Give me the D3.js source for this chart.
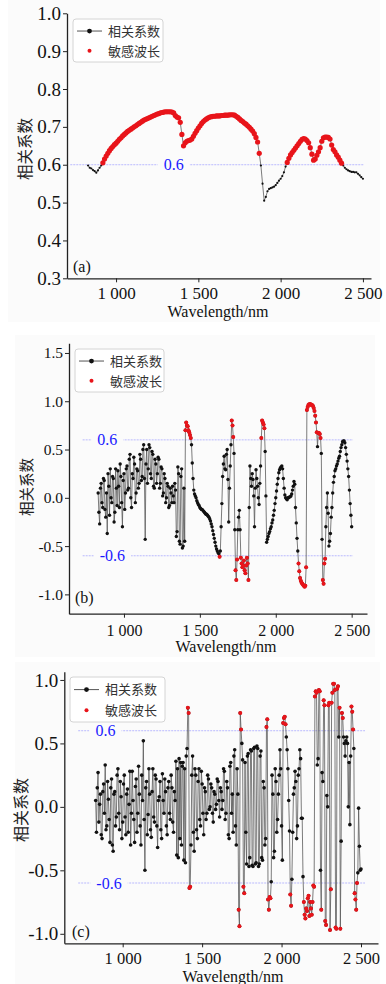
<!DOCTYPE html>
<html>
<head>
<meta charset="utf-8">
<script src="https://cdn.jsdelivr.net/npm/d3@7"></script>
<style>
  body { margin: 0; background: #fff; }
  svg { display: block; }
</style>
</head>
<body>
<svg id="chart" width="386" height="984"></svg>
<script>
// sampling grid (nm): (a) every 10 nm, (b)/(c) every 5 nm, all from 830 nm
const wlStart = 830;
const stepA = 10, stepBC = 5;

const xTickValues = [1000, 1500, 2000, 2500];
const xTickLabels = ["1 000", "1 500", "2 000", "2 500"];
const legendLabels = ["相关系数", "敏感波长"];
const panelLetters = ["(a)", "(b)", "(c)"];
const sensThreshold = 0.6;

// (a) correlation coefficient, 830-2500 nm every 10 nm
const corrA = [
  0.598, 0.592, 0.590, 0.586, 0.583, 0.579, 0.585, 0.592, 0.598, 0.605,
  0.615, 0.623, 0.630, 0.637, 0.643, 0.648, 0.653, 0.657, 0.662, 0.667,
  0.671, 0.676, 0.680, 0.684, 0.688, 0.691, 0.694, 0.697, 0.700, 0.703,
  0.706, 0.709, 0.712, 0.715, 0.718, 0.720, 0.722, 0.724, 0.726, 0.728,
  0.730, 0.732, 0.734, 0.735, 0.737, 0.738, 0.739, 0.740, 0.740, 0.740,
  0.740, 0.739, 0.737, 0.730, 0.726, 0.724, 0.712, 0.680, 0.650, 0.658,
  0.662, 0.664, 0.665, 0.668, 0.675, 0.683, 0.690, 0.697, 0.703, 0.709,
  0.714, 0.718, 0.721, 0.724, 0.726, 0.727, 0.728, 0.728, 0.729, 0.729,
  0.729, 0.730, 0.730, 0.731, 0.731, 0.731, 0.732, 0.732, 0.732, 0.731,
  0.728, 0.725, 0.721, 0.717, 0.714, 0.710, 0.707, 0.703, 0.699, 0.694,
  0.689, 0.682, 0.672, 0.660, 0.630, 0.598, 0.550, 0.505, 0.515, 0.530,
  0.536, 0.538, 0.540, 0.542, 0.546, 0.552, 0.558, 0.563, 0.570, 0.580,
  0.595, 0.606, 0.617, 0.626, 0.632, 0.638, 0.644, 0.650, 0.656, 0.662,
  0.667, 0.669, 0.668, 0.664, 0.658, 0.645, 0.628, 0.612, 0.615, 0.625,
  0.634, 0.645, 0.662, 0.671, 0.673, 0.673, 0.672, 0.668, 0.652, 0.640,
  0.634, 0.626, 0.620, 0.612, 0.604, 0.598, 0.592, 0.588, 0.585, 0.583,
  0.581, 0.581, 0.580, 0.580, 0.576, 0.572, 0.567, 0.563
];

// (b) every 5 nm, one row = 50 nm
const corrB = [
  0.05, -0.15, -0.27, 0.10, 0.15, -0.05, -0.10, 0.20, 0.18, -0.12,
  -0.20, 0.05, -0.37, 0.25, 0.12, -0.18, 0.30, 0.00, -0.05, 0.22,
  0.20, -0.25, -0.15, 0.30, 0.10, -0.08, 0.28, 0.12, -0.10, 0.35,
  0.22, -0.05, -0.30, 0.18, 0.25, -0.12, 0.05, 0.30, 0.33, 0.08,
  0.10, 0.40, 0.45, 0.00, -0.10, 0.25, 0.20, 0.42, 0.35, -0.05,
  0.05, 0.30, 0.28, 0.10, 0.15, 0.45, 0.40, 0.18, 0.22, 0.50,
  0.55, 0.20, -0.43, 0.35, 0.50, 0.15, 0.30, 0.55, 0.52, 0.25,
  0.20, 0.48, 0.45, 0.12, 0.10, 0.40, 0.35, 0.15, 0.25, 0.42,
  0.40, 0.10, 0.15, 0.32, 0.30, 0.02, 0.05, 0.25, 0.20, -0.05,
  0.00, 0.15, 0.12, -0.10, -0.08, 0.10, 0.05, -0.05, 0.12, 0.02,
  -0.05, 0.15, 0.08, -0.40, -0.35, 0.32, 0.25, -0.45, -0.48, 0.22,
  0.30, -0.52, -0.50, 0.10, -0.45, 0.70, 0.78, 0.75, 0.74, 0.70,
  0.68, 0.65, 0.62, 0.55, 0.36, 0.20, 0.08, 0.04, 0.02, 0.00,
  -0.03, -0.05, -0.07, -0.08, -0.10, -0.11, -0.12, -0.12, -0.13, -0.14,
  -0.15, -0.16, -0.17, -0.17, -0.18, -0.19, -0.20, -0.22, -0.24, -0.27,
  -0.30, -0.34, -0.38, -0.42, -0.46, -0.50, -0.53, -0.55, -0.57, -0.58,
  -0.61, -0.55, -0.30, -0.06, 0.22, 0.35, 0.43, 0.30, 0.29, 0.45,
  0.50, 0.19, -0.25, 0.10, 0.33, 0.55, 0.80, 0.75, 0.63, 0.46,
  -0.33, -0.75, -0.85, -0.64, -0.33, -0.20, -0.13, -0.33, -0.62, -0.68,
  -0.72, -0.70, -0.65, -0.75, -0.78, -0.70, -0.62, -0.68, -0.85, -0.10,
  0.33, 0.20, 0.12, 0.25, 0.19, 0.02, -0.30, 0.10, 0.29, 0.20,
  0.12, 0.00, -0.07, 0.15, 0.33, 0.62, 0.80, 0.78, 0.76, 0.72,
  0.48, 0.02, -0.46, -0.43, -0.40, -0.37, -0.35, -0.32, -0.30, -0.26,
  -0.23, -0.18, -0.13, -0.06, 0.00, 0.07, 0.14, 0.20, 0.26, 0.29,
  0.31, 0.32, 0.33, 0.30, 0.20, 0.10, 0.03, 0.00, -0.01, -0.02,
  0.00, 0.00, 0.01, 0.01, 0.02, 0.04, 0.08, 0.12, 0.17, 0.14,
  -0.10, -0.26, -0.42, -0.55, -0.68, -0.76, -0.83, -0.86, -0.88, -0.89,
  -0.90, -0.91, -0.92, -0.91, -0.72, 0.91, 0.94, 0.96, 0.97, 0.97,
  0.97, 0.96, 0.96, 0.95, 0.93, 0.90, 0.85, 0.78, 0.68, 0.53,
  0.67, 0.67, 0.66, 0.62, 0.46, -0.43, -0.85, -0.89, -0.68, -0.63,
  -0.30, -0.10, 0.05, -0.16, -0.50, -0.45, -0.37, -0.20, -0.10, 0.05,
  0.16, 0.22, 0.28, 0.30, 0.33, 0.35, 0.38, 0.41, 0.43, 0.48,
  0.52, 0.55, 0.58, 0.59, 0.59, 0.57, 0.52, 0.45, 0.38, 0.30,
  0.22, 0.08, -0.06, -0.18, -0.30
];

// (c) every 5 nm, one row = 50 nm
const corrC = [
  0.05, -0.20, 0.15, 0.27, -0.12, 0.02, 0.10, -0.22, -0.25, 0.12,
  0.18, -0.05, 0.33, -0.18, -0.15, 0.20, 0.06, -0.10, -0.28, 0.15,
  0.22, -0.30, -0.35, 0.10, 0.12, -0.15, -0.08, 0.25, 0.30, -0.05,
  -0.18, 0.20, 0.08, -0.25, -0.12, 0.18, 0.25, -0.08, -0.22, 0.10,
  0.14, -0.20, 0.02, 0.28, -0.30, -0.05, 0.28, 0.05, -0.10, -0.28,
  0.16, 0.22, -0.20, -0.05, 0.32, 0.10, -0.15, -0.30, 0.25, 0.05,
  0.52, -0.10, -0.50, 0.15, 0.20, -0.22, -0.06, 0.30, 0.10, -0.18,
  -0.24, 0.12, 0.30, -0.08, -0.12, 0.25, 0.22, -0.15, -0.32, 0.05,
  0.08, 0.20, -0.18, -0.25, 0.26, 0.05, -0.05, 0.22, 0.12, -0.15,
  -0.22, 0.15, 0.20, -0.05, -0.10, 0.25, 0.15, -0.12, -0.20, 0.12,
  0.05, 0.36, -0.38, 0.30, -0.40, 0.38, -0.25, 0.35, -0.30, 0.32,
  0.35, -0.42, 0.30, -0.44, 0.40, 0.46, 0.78, 0.74, -0.64, -0.63,
  -0.30, 0.25, 0.40, -0.20, -0.35, 0.30, 0.25, -0.18, -0.25, 0.20,
  0.30, -0.10, -0.15, 0.28, 0.18, -0.05, -0.22, 0.15, 0.12, -0.10,
  -0.05, 0.25, 0.22, -0.02, 0.00, 0.18, 0.15, -0.05, -0.12, 0.12,
  0.10, -0.02, 0.02, 0.22, 0.20, 0.05, -0.08, 0.15, 0.12, -0.02,
  0.05, 0.30, 0.28, -0.10, -0.05, 0.20, 0.15, -0.22, -0.25, 0.32,
  0.35, -0.05, 0.10, -0.20, 0.40, 0.45, -0.15, -0.30, 0.30, 0.10,
  -0.81, -0.94, 0.74, 0.61, 0.50, 0.37, -0.63, -0.68, 0.35, -0.20,
  -0.45, 0.40, 0.42, -0.47, -0.40, 0.45, 0.44, -0.46, -0.47, 0.46,
  0.47, -0.45, -0.44, 0.48, 0.46, -0.47, -0.45, 0.40, 0.44, -0.40,
  -0.42, 0.20, 0.15, -0.30, -0.25, 0.63, 0.69, -0.73, -0.81, -0.71,
  -0.72, -0.59, 0.25, 0.10, -0.40, -0.35, 0.30, 0.20, -0.20, -0.10,
  0.10, 0.25, 0.45, 0.30, -0.15, -0.42, 0.66, 0.70, 0.71, 0.65,
  0.55, 0.45, 0.30, 0.05, -0.19, -0.69, -0.78, -0.57, -0.20, 0.10,
  0.15, 0.28, 0.20, -0.25, -0.15, 0.25, 0.30, 0.45, 0.38, -0.09,
  -0.09, -0.55, -0.75, -0.85, -0.88, -0.80, -0.82, -0.72, -0.70, -0.86,
  -0.75, -0.80, -0.85, -0.75, -0.62, -0.63, 0.87, 0.91, 0.90, 0.33,
  0.38, 0.92, 0.91, -0.50, -0.81, 0.27, 0.20, 0.84, 0.80, -0.90,
  -0.93, 0.09, 0.00, 0.80, 0.82, -0.97, -0.65, 0.82, 0.90, 0.97,
  0.97, 0.92, -0.95, -0.96, 0.93, 0.95, 0.55, 0.78, -0.96, -0.27,
  0.74, 0.70, 0.55, 0.50, 0.40, 0.52, 0.55, 0.50, 0.00, 0.35,
  -0.14, 0.40, 0.79, 0.75, 0.61, 0.46, -0.68, -0.73, -0.81, -0.60,
  -0.52, -0.01, -0.31, -0.50, -0.49
];

const yTicksA = [0.3, 0.4, 0.5, 0.6, 0.7, 0.8, 0.9, 1.0];
const yTicksB = [-1.0, -0.5, 0.0, 0.5, 1.0, 1.5];
const yTicksC = [-1.0, -0.5, 0.0, 0.5, 1.0];
const thresholdsA = [0.6];
const thresholdsBC = [0.6, -0.6];

const serif = "'Liberation Serif', 'Times New Roman', serif";
const cjk = "'Noto Sans CJK SC', sans-serif";

const panels = [
  { values: corrA, step: stepA, yTicks: yTicksA, thresholds: thresholdsA, thrLabelAt: [1350], thrSpan: [722, 2505],
    left: 67, right: 371, top: 13.3, bottom: 278.3, xDomain: [702, 2549], yDomain: [0.3, 1.0],
    yTickFont: 19, xTickFont: 17, xPad: 5, blackR: 1.1, redR: 2.6,
    legend: { x: 73, y: 19, w: 90, h: 43 }, yLabel: { x: 26, y: 149, size: 15.5 },
    xLabel: { x: 218, y: 317 }, letter: { x: 73, y: 272 }, bg: [8, 0, 372, 322] },
  { values: corrB, step: stepBC, yTicks: yTicksB, thresholds: thresholdsBC, thrLabelAt: [890, 924], thrSpan: [728, 2509],
    left: 69, right: 367, top: 343.3, bottom: 613.7, xDomain: [638, 2601], yDomain: [-1.2, 1.6],
    yTickFont: 15.5, xTickFont: 16, xPad: 7, blackR: 1.7, redR: 2.0,
    legend: { x: 75, y: 349, w: 89, h: 43 }, yLabel: { x: 27, y: 487, size: 14.5 },
    xLabel: { x: 226, y: 652 }, letter: { x: 75, y: 603 }, bg: [15, 335, 360, 322] },
  { values: corrC, step: stepBC, yTicks: yTicksC, thresholds: thresholdsBC, thrLabelAt: [892, 914], thrSpan: [720, 2525],
    left: 64.3, right: 378, top: 671.7, bottom: 943.3, xDomain: [632.5, 2607], yDomain: [-1.075, 1.065],
    yTickFont: 19, xTickFont: 16.5, xPad: 5, blackR: 1.8, redR: 2.0,
    legend: { x: 70, y: 677, w: 95, h: 45 }, yLabel: { x: 21, y: 810, size: 16 },
    xLabel: { x: 233, y: 981.5 }, letter: { x: 72, y: 937 }, bg: [15, 662, 365, 322] }
];

const svg = d3.select("#chart");
svg.append("rect").attr("width", 386).attr("height", 984).attr("fill", "#fff");

panels.forEach((p, pi) => {
  const g = svg.append("g");
  g.append("rect").attr("x", p.bg[0]).attr("y", p.bg[1]).attr("width", p.bg[2]).attr("height", p.bg[3])
    .attr("fill", "#fbfbfb");

  const x = d3.scaleLinear().domain(p.xDomain).range([p.left, p.right]);
  const y = d3.scaleLinear().domain(p.yDomain).range([p.bottom, p.top]);

  // threshold lines with labels
  p.thresholds.forEach((t, i) => {
    g.append("line")
      .attr("x1", x(p.thrSpan[0])).attr("x2", x(p.thrSpan[1]))
      .attr("y1", y(t)).attr("y2", y(t))
      .attr("stroke", "#a9a9ff").attr("stroke-width", 0.8).attr("stroke-dasharray", "2,1");
    const lbl = g.append("text")
      .attr("x", x(p.thrLabelAt[i])).attr("y", y(t)).attr("dy", "0.35em")
      .attr("text-anchor", "middle")
      .style("font-family", serif).style("font-size", "16px").attr("fill", "#1a1aff")
      .text(t.toFixed(1));
    const bb = lbl.node().getBBox();
    g.insert("rect", () => lbl.node())
      .attr("x", bb.x - 6).attr("y", y(t) - 3).attr("width", bb.width + 12).attr("height", 6)
      .attr("fill", "#fbfbfb");
  });

  const pts = p.values.map((v, i) => ({ w: wlStart + i * p.step, v: v }));

  g.append("path").datum(pts)
    .attr("d", d3.line().x(d => x(d.w)).y(d => y(d.v)))
    .attr("fill", "none").attr("stroke", "#5a5a5a").attr("stroke-width", 0.8);

  g.selectAll("circle.all").data(pts).enter().append("circle")
    .attr("class", "all")
    .attr("cx", d => x(d.w)).attr("cy", d => y(d.v)).attr("r", p.blackR)
    .attr("fill", "#111");

  g.selectAll("circle.sens").data(pts.filter(d => Math.abs(d.v) >= sensThreshold)).enter().append("circle")
    .attr("class", "sens")
    .attr("cx", d => x(d.w)).attr("cy", d => y(d.v)).attr("r", p.redR)
    .attr("fill", "#e8141a");

  // axes
  const xAxis = g.append("g").attr("transform", `translate(0,${p.bottom})`)
    .call(d3.axisBottom(x).tickValues(xTickValues).tickFormat((d, i) => xTickLabels[i])
      .tickSizeInner(4).tickSizeOuter(0).tickPadding(p.xPad));
  const yAxis = g.append("g").attr("transform", `translate(${p.left},0)`)
    .call(d3.axisLeft(y).tickValues(p.yTicks).tickFormat(d => d.toFixed(1))
      .tickSizeInner(4).tickSizeOuter(0).tickPadding(2));
  [xAxis, yAxis].forEach(a => {
    a.select(".domain").attr("stroke", "#222").attr("stroke-width", 1.3);
    a.selectAll(".tick line").attr("stroke", "#222").attr("stroke-width", 1);
    a.selectAll(".tick text").style("font-family", serif).attr("fill", "#111");
  });
  xAxis.selectAll(".tick text").style("font-size", p.xTickFont + "px");
  yAxis.selectAll(".tick text").style("font-size", p.yTickFont + "px");

  g.append("text")
    .attr("x", p.xLabel.x).attr("y", p.xLabel.y).attr("text-anchor", "middle")
    .style("font-family", serif).style("font-size", "16px").attr("fill", "#111")
    .text("Wavelength/nm");

  g.append("text")
    .attr("transform", `translate(${p.yLabel.x},${p.yLabel.y}) rotate(-90)`)
    .attr("text-anchor", "middle").attr("dy", "0.35em")
    .style("font-family", cjk).style("font-size", p.yLabel.size + "px").attr("fill", "#222")
    .text("相关系数");

  g.append("text")
    .attr("x", p.letter.x).attr("y", p.letter.y)
    .style("font-family", serif).style("font-size", "16px").attr("fill", "#111")
    .text(panelLetters[pi]);

  // legend
  const L = p.legend;
  const lg = g.append("g").attr("transform", `translate(${L.x},${L.y})`);
  lg.append("rect").attr("width", L.w).attr("height", L.h).attr("rx", 3)
    .attr("fill", "#fff").attr("fill-opacity", 0.85).attr("stroke", "#d4d4d4");
  const r1 = L.h * 0.28, r2 = L.h * 0.74;
  lg.append("line").attr("x1", 4).attr("x2", 29).attr("y1", r1).attr("y2", r1)
    .attr("stroke", "#555").attr("stroke-width", 1);
  lg.append("circle").attr("cx", 16.5).attr("cy", r1).attr("r", 2.4).attr("fill", "#111");
  lg.append("circle").attr("cx", 16.5).attr("cy", r2).attr("r", 2).attr("fill", "#e8141a");
  legendLabels.forEach((t, i) => {
    lg.append("text").attr("x", 35).attr("y", i ? r2 : r1).attr("dy", "0.36em")
      .style("font-family", cjk).style("font-size", "13px").attr("fill", "#333")
      .text(t);
  });
});
</script>
</body>
</html>
